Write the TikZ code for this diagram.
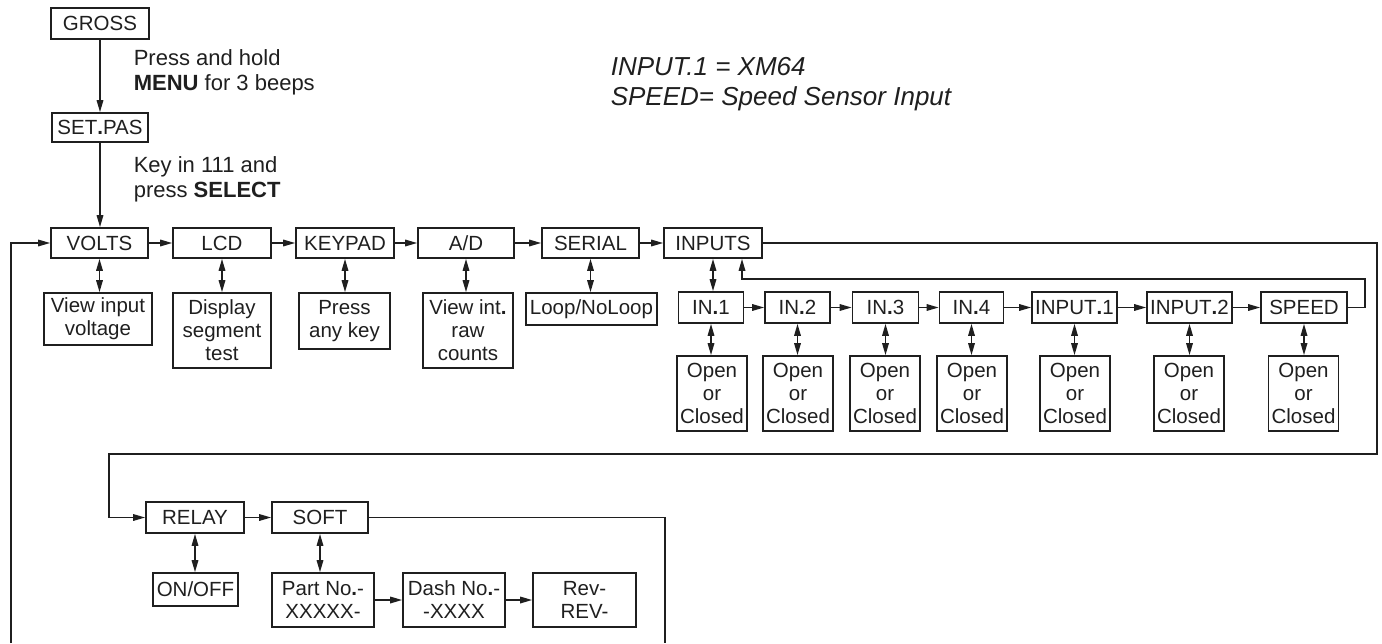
\documentclass[tikz,border=0pt]{standalone}
\usepackage{fontspec}
\setmainfont{Liberation Sans}
\usetikzlibrary{arrows.meta}
\newcommand{\bdot}{\textbf{.}}
\begin{document}
\begin{tikzpicture}[x=1pt,y=-1pt, line width=1.6pt, color={black!88},
  box/.style={draw, inner sep=0pt, font=\fontsize{20.5}{23}\selectfont, align=center},
  arr/.style={-{Triangle[length=12pt,width=6.5pt]}},
  darr/.style={{Triangle[length=12pt,width=6.5pt]}-{Triangle[length=12pt,width=6.5pt]}},
  note/.style={anchor=base west, inner sep=0pt, font=\fontsize{22}{25}\selectfont},
  ital/.style={anchor=base west, inner sep=0pt, font=\fontsize{26}{30}\selectfont\itshape}
]
\useasboundingbox (0,0) rectangle (1382,643);

% top
\node[box, minimum width=98pt, minimum height=31pt] (gross) at (100,23.5) {GROSS};
\node[box, minimum width=96pt, minimum height=29pt] (setpas) at (100,127.5) {SET\bdot PAS};
\node[note] (n1) at (133,65) {Press and hold};
\node[note] (n2) at (133,90) {\textbf{MENU} for 3 beeps};
\node[note] (n3) at (133,172) {Key in 111 and};
\node[note] (n4) at (133,197) {press \textbf{SELECT}};
\node[ital] (i1) at (610,75) {INPUT.1 = XM64};
\node[ital] (i2) at (610,105) {SPEED= Speed Sensor Input};

% main row
\tikzset{mrow/.style={box, minimum height=30pt}}
\node[mrow, minimum width=97pt] (volts) at (99.5,243) {VOLTS};
\node[mrow, minimum width=98pt] (lcd) at (222,243) {LCD};
\node[mrow, minimum width=98pt] (keypad) at (345,243) {KEYPAD};
\node[mrow, minimum width=96pt] (ad) at (466,243) {A/D};
\node[mrow, minimum width=97pt] (serial) at (590.5,243) {SERIAL};
\node[mrow, minimum width=98pt] (inputs) at (713,243) {INPUTS};

% sub boxes
\node[box, minimum width=108pt, minimum height=52pt] (vi) at (98,319) {View input\\voltage};
\node[box, minimum width=98pt, minimum height=75pt] (disp) at (222,330.5) {Display\\segment\\test};
\node[box, minimum width=91pt, minimum height=56pt] (press) at (344.5,321) {Press\\any key};
\node[box, minimum width=90pt, minimum height=75pt] (vraw) at (468,330.5) {View int\bdot\\raw\\counts};
\node[box, minimum width=131pt, minimum height=32pt] (loop) at (591.5,309) {Loop/NoLoop};

% inputs row
\tikzset{irow/.style={box, minimum height=31pt}}
\node[irow, minimum width=65pt] (in1) at (711,307.5) {IN\bdot 1};
\node[irow, minimum width=65pt] (in2) at (797.5,307.5) {IN\bdot 2};
\node[irow, minimum width=66pt] (in3) at (885.5,307.5) {IN\bdot 3};
\node[irow, minimum width=64pt] (in4) at (971.5,307.5) {IN\bdot 4};
\node[irow, minimum width=85pt] (inp1) at (1074.5,307.5) {INPUT\bdot 1};
\node[irow, minimum width=85pt] (inp2) at (1189.5,307.5) {INPUT\bdot 2};
\node[irow, minimum width=86pt] (speed) at (1304,307.5) {SPEED};

\tikzset{oc/.style={box, minimum width=70pt, minimum height=75pt}}
\node[oc] (oc1) at (712,393.5) {Open\\or\\Closed};
\node[oc] (oc2) at (798,393.5) {Open\\or\\Closed};
\node[oc] (oc3) at (885,393.5) {Open\\or\\Closed};
\node[oc] (oc4) at (972,393.5) {Open\\or\\Closed};
\node[oc] (oc5) at (1075,393.5) {Open\\or\\Closed};
\node[oc] (oc6) at (1189,393.5) {Open\\or\\Closed};
\node[oc] (oc7) at (1303.5,393.5) {Open\\or\\Closed};

% bottom row
\node[box, minimum width=98pt, minimum height=31pt] (relay) at (195,517.5) {RELAY};
\node[box, minimum width=96pt, minimum height=31pt] (soft) at (320,517.5) {SOFT};
\node[box, minimum width=85pt, minimum height=33pt] (onoff) at (195.5,589.5) {ON/OFF};
\node[box, minimum width=102pt, minimum height=54pt] (part) at (323,600) {Part No\bdot -\\XXXXX-};
\node[box, minimum width=102pt, minimum height=54pt] (dash) at (454,600) {Dash No\bdot -\\-XXXX};
\node[box, minimum width=103pt, minimum height=54pt] (rev) at (584.5,600) {Rev-\\REV-};

\coordinate (lb) at (11,643);
\coordinate (sb) at (665,643);

% connectors top
\draw[arr] (gross.south) -- (setpas.north);
\draw[arr] (setpas.south) -- (setpas.south |- volts.north);

% main row arrows
\draw[arr] (volts) -- (lcd);
\draw[arr] (lcd) -- (keypad);
\draw[arr] (keypad) -- (ad);
\draw[arr] (ad) -- (serial);
\draw[arr] (serial) -- (inputs);
\draw[arr] (lb) |- (volts.west);

\draw[darr] (volts.south) -- (volts.south |- vi.north);
\draw[darr] (lcd.south) -- (lcd.south |- disp.north);
\draw[darr] (keypad.south) -- (keypad.south |- press.north);
\draw[darr] (ad.south) -- (ad.south |- vraw.north);
\draw[darr] (serial.south) -- (serial.south |- loop.north);
\draw[darr] (inputs.south) -- (inputs.south |- in1.north);

% inputs row arrows
\draw[arr] (in1) -- (in2);
\draw[arr] (in2) -- (in3);
\draw[arr] (in3) -- (in4);
\draw[arr] (in4) -- (inp1);
\draw[arr] (inp1) -- (inp2);
\draw[arr] (inp2) -- (speed);
\draw[darr] (in1.south) -- (in1.south |- oc1.north);
\draw[darr] (in2.south) -- (in2.south |- oc2.north);
\draw[darr] (in3.south) -- (in3.south |- oc3.north);
\draw[darr] (in4.south) -- (in4.south |- oc4.north);
\draw[darr] (inp1.south) -- (inp1.south |- oc5.north);
\draw[darr] (inp2.south) -- (inp2.south |- oc6.north);
\draw[darr] (speed.south) -- (speed.south |- oc7.north);

\draw[arr] (speed.east) -- (1365,307.5) -- (1365,279) -- (742,279) -- (742,258.8);

% return to bottom row
\draw[arr] (inputs.east) -- (1377,243) -- (1377,454) -- (109,454) |- (relay.west);

% bottom row arrows
\draw[arr] (relay) -- (soft);
\draw[darr] (relay.south) -- (relay.south |- onoff.north);
\draw[darr] (soft.south) -- (soft.south |- part.north);
\draw[arr] (part) -- (dash);
\draw[arr] (dash) -- (rev);
\draw (soft.east) -| (sb);
\end{tikzpicture}
\end{document}
